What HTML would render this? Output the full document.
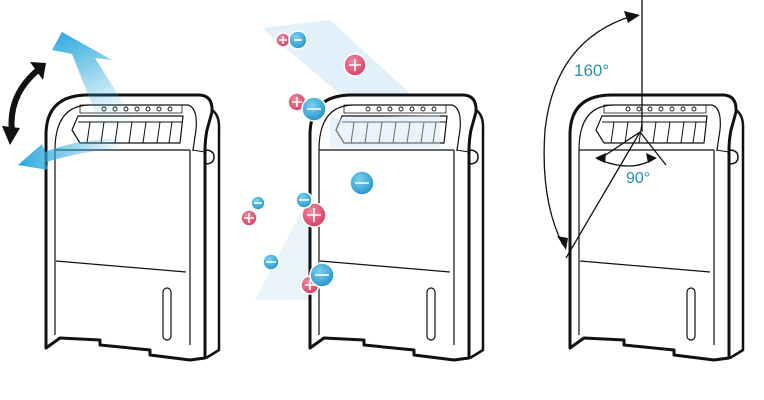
<!DOCTYPE html>
<html><head><meta charset="utf-8"><style>
html,body{margin:0;padding:0;background:#fff;width:764px;height:400px;overflow:hidden}
svg{display:block}
text{font-family:"Liberation Sans",sans-serif}
</style></head><body>
<svg width="764" height="400" viewBox="0 0 764 400" xmlns="http://www.w3.org/2000/svg">
<defs>
<g id="unit" fill="none" stroke="#111" stroke-linejoin="round">
  <path d="M208,108 Q220,112 219,130 V350 L206,358" stroke-width="2.5" fill="#fff"/>
  <path d="M46,348 V135 Q46,95 88,95 H200 Q213,96 212,112 L207,130 Q205,140 205,150 V358 L190,360 L150,355 L150,350 L100,345 L100,340 L60,338 L46,348 Z" stroke-width="3" fill="#fff"/>
  <path d="M55,150 Q55,105 90,105 H188 Q198,108 196,130 L193,150" stroke-width="1.2"/>
  <path d="M55,150 V335 M190,150 V345 M55,150 H190" stroke-width="1.2"/>
  <path d="M192,150 L205,152" stroke-width="1"/>
  <path d="M56,261 L186,272" stroke-width="1.2"/>
  <rect x="163" y="288" width="8" height="52" rx="4" stroke-width="1.2"/>
  <path d="M78,116 H183 L180,143 H80 L72,130 Z" stroke-width="1.2"/>
  <path d="M78,122 H182 M90,122 L87,143 M104,122 L101,143 M118,122 L115,143 M132,122 L129,143 M146,122 L143,143 M160,122 L157,143 M172,122 L169,143" stroke-width="1"/>
  <rect x="80" y="105" width="102" height="8" stroke-width="0.8"/>
  <g stroke-width="0.9"><circle cx="104" cy="109" r="2"/><circle cx="115" cy="109" r="2"/><circle cx="126" cy="109" r="2"/><circle cx="137" cy="109" r="2"/><circle cx="148" cy="109" r="2"/><circle cx="159" cy="109" r="2"/><circle cx="170" cy="109" r="2"/></g>
  <path d="M205,150 Q214,150 214,157 Q214,164 205,164" stroke-width="1.5"/>
</g>
<linearGradient id="bu" x1="0" y1="0" x2="0.3" y2="1"><stop offset="0" stop-color="#2aa8dc"/><stop offset="1" stop-color="#2aa8dc" stop-opacity="0.05"/></linearGradient>
<linearGradient id="bl" x1="0" y1="0" x2="1" y2="0"><stop offset="0" stop-color="#2aa8dc"/><stop offset="1" stop-color="#2aa8dc" stop-opacity="0.05"/></linearGradient>
<radialGradient id="pk" cx="0.4" cy="0.35" r="0.7"><stop offset="0" stop-color="#f08aa0"/><stop offset="1" stop-color="#d43c62"/></radialGradient>
<radialGradient id="bb" cx="0.4" cy="0.35" r="0.7"><stop offset="0" stop-color="#7fd0f0"/><stop offset="1" stop-color="#1e93c8"/></radialGradient>
</defs>

<use href="#unit"/>
<path d="M135,122 L95,58 L112,60 L62,32 L52,50 L72,54 L100,125 Z" fill="url(#bu)"/>
<path d="M118,138 Q75,140 45,152 L42,144 L18,165 L48,170 L46,162 Q80,152 120,148 Z" fill="url(#bl)"/>
<path d="M12,132 Q8,95 38,70" fill="none" stroke="#111" stroke-width="6"/>
<path d="M30,62 L46,63 L43,80 Z M2,126 L20,128 L10,145 Z" fill="#111"/>

<polygon points="262,28 330,20 450,130 400,145" fill="#cfe6f5" opacity="0.6"/>
<polygon points="345,128 410,122 320,300 255,300" fill="#d6eaf6" opacity="0.55"/>
<use href="#unit" transform="translate(264,0)"/>
<polygon points="330,118 440,115 440,148 330,148" fill="#cfe6f5" opacity="0.45"/>
<g stroke="#fff" stroke-width="1.6">
<g fill="url(#pk)">
<circle cx="283" cy="40" r="7"/><circle cx="355" cy="65" r="11"/><circle cx="297" cy="102" r="9"/><circle cx="249" cy="218" r="8"/><circle cx="314" cy="215" r="12"/><circle cx="310" cy="285" r="9"/>
</g>
<g fill="url(#bb)">
<circle cx="298" cy="40" r="9"/><circle cx="314" cy="109" r="12"/><circle cx="362" cy="183" r="12"/><circle cx="258" cy="203" r="7"/><circle cx="304" cy="200" r="8"/><circle cx="271" cy="262" r="8"/><circle cx="322" cy="275" r="12"/>
</g>
<path d="M279,40h8M283,36v8 M349,65h12M355,59v12 M292,102h10M297,97v10 M244,218h10M249,213v10 M307,215h14M314,208v14 M305,285h10M310,280v10" fill="none"/>
<path d="M294,40h8 M307,109h14 M355,183h14 M254,203h8 M299,200h10 M266,262h10 M315,275h14" fill="none"/>
</g>

<use href="#unit" transform="translate(524,0)"/>
<g fill="none" stroke="#111" stroke-width="1.3">
<path d="M642,0 V132"/>
<path d="M640,132 L566,258"/>
<path d="M640,132 L666,165 M640,132 L598,160"/>
<path d="M632,16 Q555,40 545,130 Q540,200 563,245"/>
<path d="M600,160 Q630,172 652,160"/>
</g>
<g fill="#111">
<path d="M640,15 L624,11 L628,23 Z"/>
<path d="M566,250 L557,236 L568,238 Z"/>
<path d="M595,158 L606,153 L605,163 Z"/>
<path d="M657,158 L646,153 L648,163 Z"/>
</g>
<text x="574" y="76" font-size="17" fill="#2a8fb5">160°</text>
<text x="626" y="183" font-size="16" fill="#2a8fb5">90°</text>
</svg>
</body></html>
